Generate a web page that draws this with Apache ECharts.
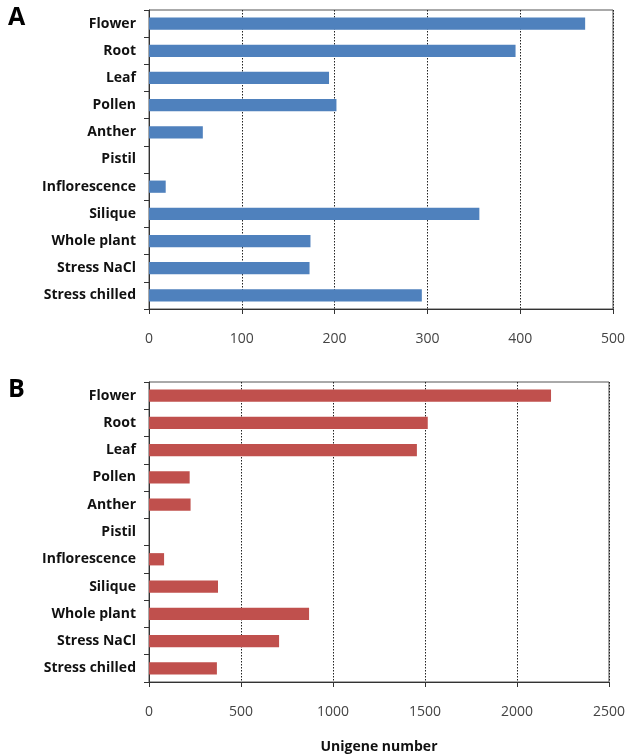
<!DOCTYPE html>
<html><head><meta charset="utf-8">
<script src="https://cdn.jsdelivr.net/npm/echarts@6/dist/echarts.min.js"></script>
<style>html,body{margin:0;padding:0;background:#fff}#c{width:628px;height:755px}</style>
</head><body><div id="c"></div>
<script>
const categories = ["Flower","Root","Leaf","Pollen","Anther","Pistil","Inflorescence","Silique","Whole plant","Stress NaCl","Stress chilled"];
const valuesA = [470, 395, 194, 202, 58, 0, 18, 356, 174, 173, 294];
const valuesB = [2185, 1515, 1456, 221, 226, 0, 82, 375, 870, 707, 369];
const ticksA = [0, 100, 200, 300, 400, 500];
const ticksB = [0, 500, 1000, 1500, 2000, 2500];
const xTitle = "Unigene number";

const font = "'Open Sans', 'Noto Sans', sans-serif";
const chart = echarts.init(document.getElementById('c'));
function xAxis(idx, ticks) {
  return {
    type: 'value', gridIndex: idx, min: ticks[0], max: ticks[ticks.length-1],
    interval: ticks[1]-ticks[0],
    axisLine: {show: true, lineStyle: {color: '#333', width: 1}},
    axisTick: {show: true, length: 5, lineStyle: {color: '#333'}},
    axisLabel: {color: '#444', fontFamily: font, fontSize: 14, margin: 23,
                formatter: v => String(v)},
    splitLine: {show: true, lineStyle: {color: '#222', type: [1.5, 1.5], width: 1}},
    name: idx === 1 ? xTitle : '', nameLocation: 'middle', nameGap: 58,
    nameTextStyle: {fontFamily: font, fontWeight: 'bold', fontSize: 14, color: '#111'}
  };
}
function yAxis(idx) {
  return {
    type: 'category', gridIndex: idx, data: categories, inverse: true,
    axisLine: {show: true, lineStyle: {color: '#333', width: 1}},
    axisTick: {show: true, length: 5, lineStyle: {color: '#333'}},
    axisLabel: {color: '#111', fontFamily: font, fontWeight: 'bold', fontSize: 14, margin: 13}
  };
}
chart.setOption({
  animation: false,
  graphic: [
    {type: 'text', left: 8, top: 5, style: {text: 'A', font: "bold 25px " + font, fill: '#000'}},
    {type: 'text', left: 8, top: 377, style: {text: 'B', font: "bold 25px " + font, fill: '#000'}}
  ],
  grid: [
    {left: 149, right: 12, top: 10, height: 299, show: true, borderColor: '#555', borderWidth: 1},
    {left: 149, right: 15, top: 382, height: 302, show: true, borderColor: '#555', borderWidth: 1}
  ],
  xAxis: [xAxis(0, ticksA), xAxis(1, ticksB)],
  yAxis: [yAxis(0), yAxis(1)],
  series: [
    {type: 'bar', xAxisIndex: 0, yAxisIndex: 0, data: valuesA, barWidth: '45%',
     itemStyle: {color: '#4F81BD'}},
    {type: 'bar', xAxisIndex: 1, yAxisIndex: 1, data: valuesB, barWidth: '45%',
     itemStyle: {color: '#C0504D'}}
  ]
});
</script></body></html>
